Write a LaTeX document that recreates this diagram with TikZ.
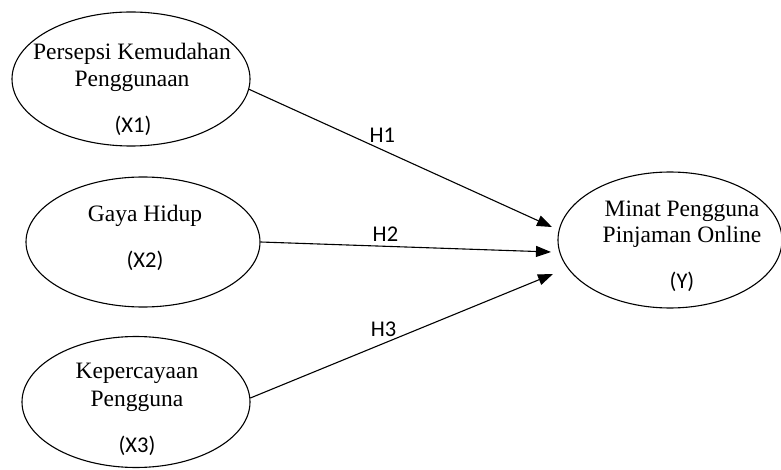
\documentclass[tikz,border=0pt]{standalone}
\usepackage{fontspec}
\setmainfont{Liberation Serif}
\newfontfamily\calfont{Carlito}
\usetikzlibrary{shapes.geometric,arrows.meta}

\begin{document}
\begin{tikzpicture}[x=1pt, y=-1pt,
  konstruk/.style={draw, ellipse, line width=1.1pt, inner sep=0pt},
  nama/.style={anchor=base, inner sep=0pt, font=\fontsize{23.5}{27}\selectfont},
  kode/.style={anchor=base, inner sep=0pt, font=\calfont\fontsize{22.5}{27}\selectfont},
  panah/.style={line width=1.1pt, -{Triangle[length=15pt, width=11pt]}}]
  \useasboundingbox (0,0) rectangle (781,470);
  % variabel bebas dan terikat
  \node[konstruk, minimum width=238pt, minimum height=134pt] (x1) at (131,79) {};
  \node[konstruk, minimum width=234pt, minimum height=130pt] (x2) at (143,242) {};
  \node[konstruk, minimum width=228pt, minimum height=131pt] (x3) at (136,402) {};
  \node[konstruk, minimum width=224pt, minimum height=136pt] (y) at (670,240) {};
  % nama variabel
  \node[nama] (x1a) at (132,60) {Persepsi Kemudahan};
  \node[nama] (x1b) at (132,87) {Penggunaan};
  \node[kode] (x1c) at (133,133) {(X1)};
  \node[nama] (x2a) at (145,222) {Gaya Hidup};
  \node[kode] (x2c) at (145,267) {(X2)};
  \node[nama] (x3a) at (137,378) {Kepercayaan};
  \node[nama] (x3b) at (137,406) {Pengguna};
  \node[kode] (x3c) at (137,452) {(X3)};
  \node[nama] (ya) at (682,217) {Minat Pengguna};
  \node[nama] (yb) at (682,243) {Pinjaman Online};
  \node[kode] (yc) at (682,288) {(Y)};
  % hipotesis
  \coordinate (t1) at (552,227);
  \coordinate (t2) at (551,252);
  \coordinate (t3) at (553,274);
  \draw[panah] (x1.-5) -- (t1) node[kode, pos=.44, yshift=7pt] (h1) {H1};
  \draw[panah] (x2.east) -- (t2) node[kode, pos=.43, yshift=5pt] (h2) {H2};
  \draw[panah] (x3.2) -- (t3) node[kode, pos=.44, yshift=7pt] (h3) {H3};
\end{tikzpicture}
\end{document}
